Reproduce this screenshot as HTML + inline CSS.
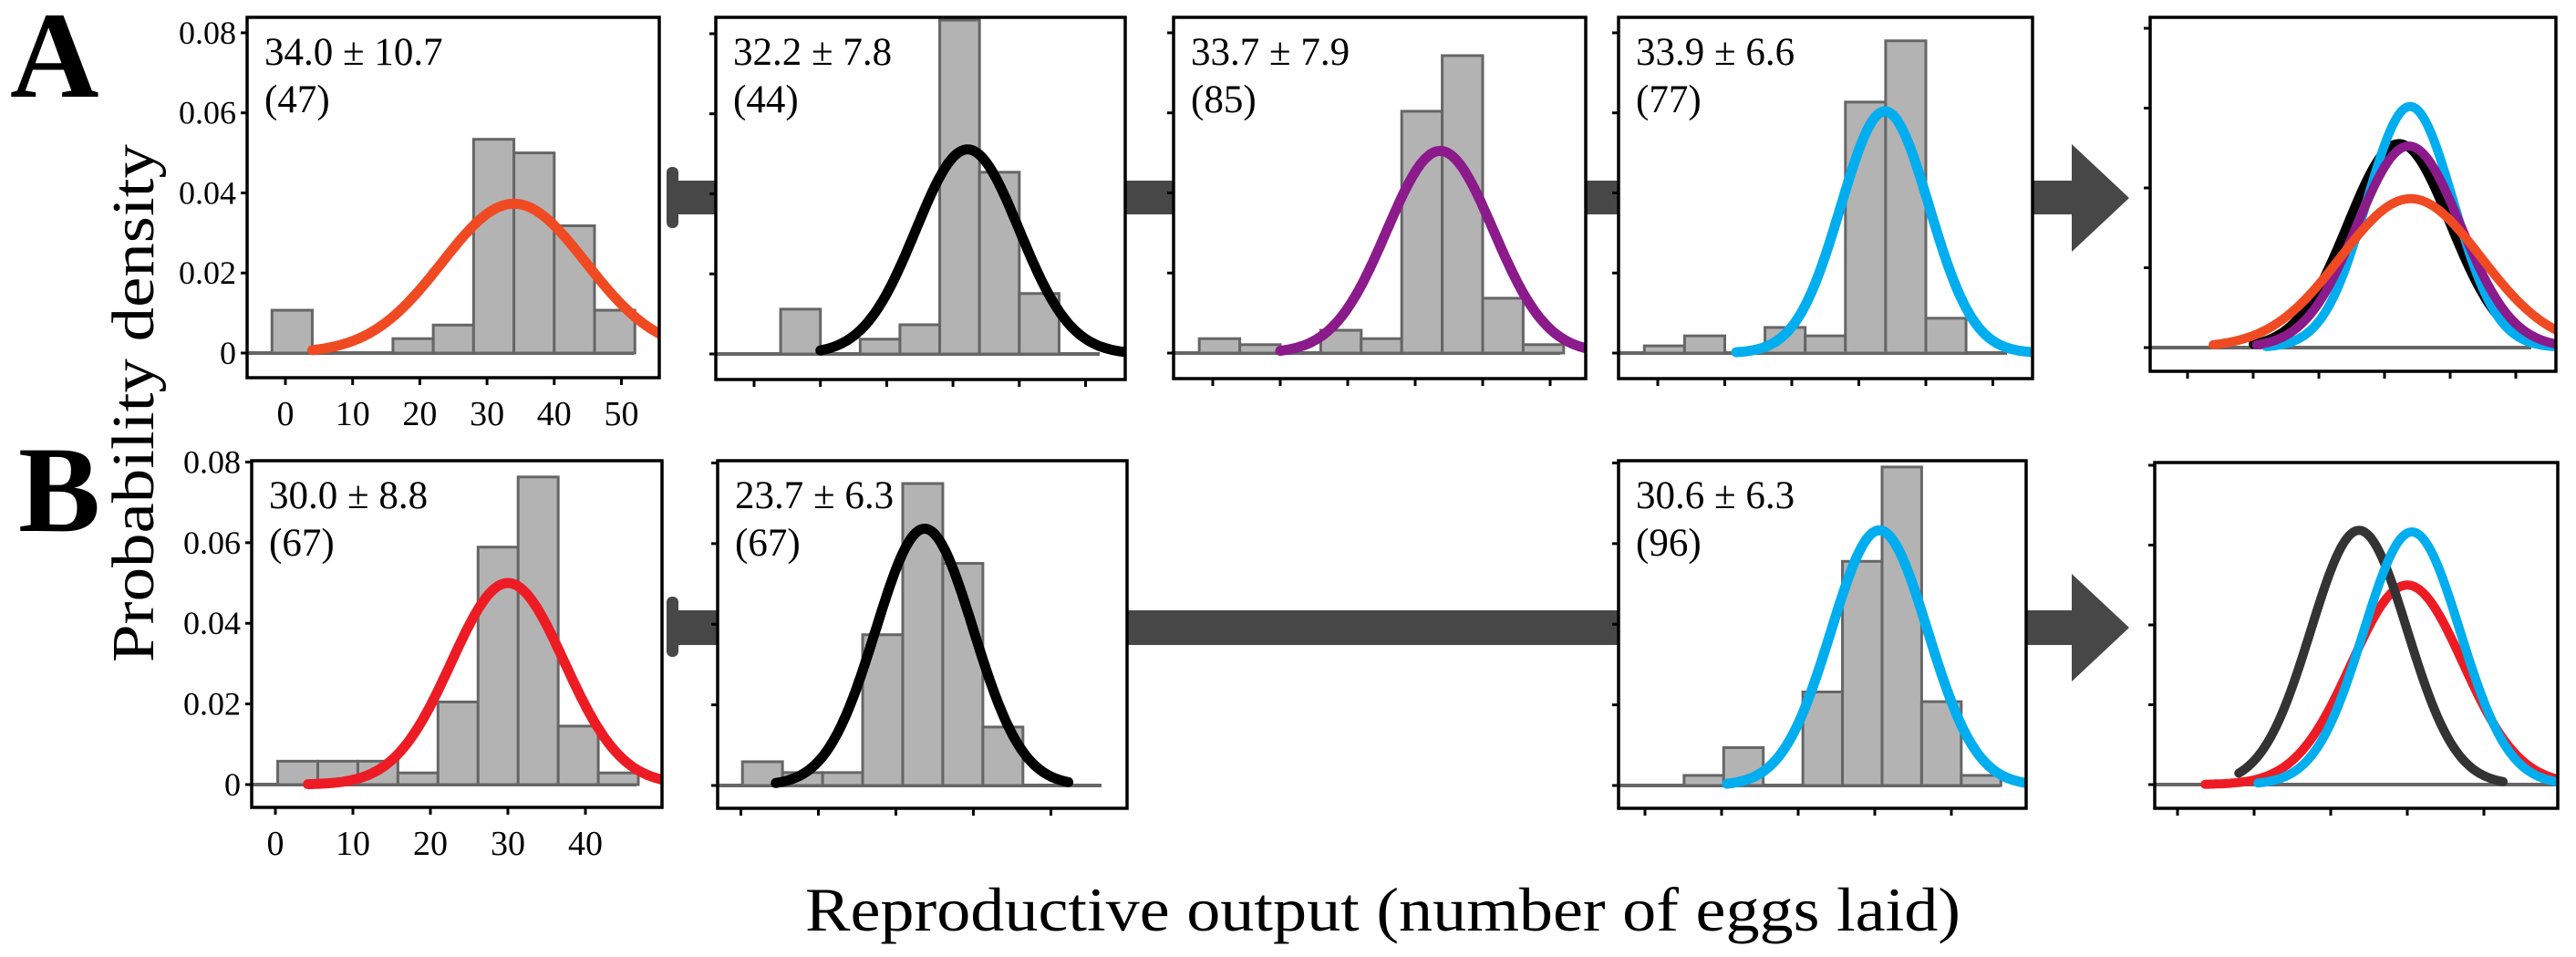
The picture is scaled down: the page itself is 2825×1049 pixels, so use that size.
<!DOCTYPE html>
<html><head><meta charset="utf-8"><style>
html,body{margin:0;padding:0;background:#fff}
svg{display:block}
text{font-family:"Liberation Serif",serif;fill:#000}
</style></head><body>
<svg id="fig" width="2825" height="1049" viewBox="0 0 2825 1049" xmlns="http://www.w3.org/2000/svg">
<g id="arrows" fill="#474747">
  <rect x="731" y="183" width="13" height="67" rx="6"/>
  <rect x="738" y="198" width="48" height="37"/>
  <rect x="1233" y="198" width="55" height="37"/>
  <rect x="1738" y="198" width="38" height="37"/>
  <rect x="2228" y="198" width="45" height="37"/>
  <polygon points="2272,158 2335,217 2272,276"/>
  <rect x="731" y="654" width="13" height="66" rx="6"/>
  <rect x="738" y="669" width="50" height="38"/>
  <rect x="1235" y="669" width="541" height="38"/>
  <rect x="2221" y="669" width="52" height="38"/>
  <polygon points="2272,629 2335,688 2272,747"/>
</g>
<text x="11" y="106" font-size="135" font-weight="bold">A</text>
<text x="20" y="582" font-size="135" font-weight="bold">B</text>
<text transform="translate(168,442) rotate(-90)" text-anchor="middle" font-size="66" textLength="568" lengthAdjust="spacingAndGlyphs">Probability density</text>
<text x="883" y="1020" font-size="68" textLength="1267" lengthAdjust="spacingAndGlyphs">Reproductive output (number of eggs laid)</text>
</svg>
<script>
// ---- data ----
const panelIds = ["a1","a2","a3","a4","b1","b2","b4"];
const binStart = [-2, 4, -2, -2, 0.3, 0.2, 5.1];
const binWidth = [6, 6, 6, 6, 5.17, 5.17, 5.17];
const binHeightsA1 = [0.0107,0,0,0.0036,0.007,0.0534,0.050,0.0318,0.0107];
const binHeightsA2 = [0.0112,0,0.0037,0.0073,0.0834,0.0454,0.0151];
const binHeightsA3 = [0.0036,0.0021,0,0.0057,0.0036,0.0604,0.0743,0.0137,0.0021];
const binHeightsA4 = [0.0018,0.0043,0,0.0064,0.0043,0.0627,0.078,0.0087];
const binHeightsB1 = [0.0058,0.0058,0.0058,0.0029,0.0205,0.0589,0.0763,0.0145,0.0029];
const binHeightsB2 = [0.0059,0.0032,0.0032,0.0374,0.0749,0.0551,0.0145];
const binHeightsB4 = [0.0025,0.0094,0,0.0232,0.0556,0.079,0.0208,0.0025];
const means = [34.0, 32.2, 33.7, 33.9, 30.0, 23.7, 30.6];
const sds = [10.7, 7.8, 7.9, 6.6, 8.8, 6.3, 6.3];
const ns = [47, 44, 85, 77, 67, 67, 96];
const curvePeaks = [0.0373, 0.0511, 0.0505, 0.0604, 0.050, 0.0637, 0.0633];
const curveShapeSd = [10.7, 7.8, 7.9, 6.6, 7.3, 6.3, 6.3];
const curveFrom = [4, 10, 10, 11.7, 4.2, 4.5, 10.7];
const curveTo = [60, 60, 60, 60, 60, 42.4, 60];
const curveColors = ["#f04a23","#000000","#8b1a8b","#00aeef","#ed1c24","#000000","#00aeef"];
const yTickValues = [0, 0.02, 0.04, 0.06, 0.08];
const yTickLabels = ["0","0.02","0.04","0.06","0.08"];
const xTickValuesA = [0,10,20,30,40,50];
const xTickValuesB = [0,10,20,30,40];
const summaryA = [1, 3, 2, 0];
const summaryAFrom = [10, 12, 10.5, 3.9];
const summaryB = [4, 5, 6];
const summaryBFrom = [3.6, 8, 10.5];
const summaryBTo = [60, 42.6, 60];
const summaryBColors = ["#ed1c24", "#333333", "#00aeef"];
const binHeights = [binHeightsA1,binHeightsA2,binHeightsA3,binHeightsA4,binHeightsB1,binHeightsB2,binHeightsB4];

// ---- layout ----
const layout = {
  a1:{l:271,t:19,r:723,b:414,x0:313,k:7.37,y0:387,yk:4388,lab:true},
  a2:{l:785,t:19,r:1234,b:416,x0:827,k:7.27,y0:388,yk:4388},
  a3:{l:1287,t:19,r:1739,b:415,x0:1330,k:7.4,y0:387,yk:4388},
  a4:{l:1775,t:19,r:2229,b:415,x0:1818,k:7.35,y0:387,yk:4388},
  a5:{l:2358,t:19,r:2803,b:407,x0:2399,k:7.2,y0:381,yk:4375},
  b1:{l:276,t:505,r:726,b:885,x0:302,k:8.5,y0:860,yk:4419,lab:true},
  b2:{l:787,t:505,r:1236,b:886,x0:812.5,k:8.5,y0:861,yk:4419},
  b4:{l:1775,t:505,r:2222,b:886,x0:1804,k:8.4,y0:861,yk:4419},
  b5:{l:2363,t:507,r:2805,b:886,x0:2388,k:8.4,y0:860,yk:4375}
};
const NS="http://www.w3.org/2000/svg";
const svg=document.getElementById('fig');
function mk(tag,attrs,parent){const e=document.createElementNS(NS,tag);for(const a in attrs)e.setAttribute(a,attrs[a]);(parent||svg).appendChild(e);return e;}
function gauss(x,m,s,p){return p*Math.exp(-(x-m)*(x-m)/(2*s*s));}

function drawFrame(id,P,xticks){
  const g=mk('g',{});
  
  
  const cp=mk('clipPath',{id:'clip-'+id},g);
  mk('rect',{x:P.l,y:P.t,width:P.r-P.l,height:P.b-P.t},cp);
  yTickValues.forEach((v,i)=>{
    const y=P.y0-v*P.yk;
    const t=mk('line',{x1:P.l-7,x2:P.l,y1:y,y2:y,stroke:'#000','stroke-width':3},g);
    
    
    if(P.lab){
      const tx=mk('text',{x:P.l-12,y:y+12,'text-anchor':'end','font-size':36},g);
      
      
      tx.textContent=yTickLabels[i];
    }
  });
  xticks.forEach(v=>{
    const x=P.x0+v*P.k;
    const t=mk('line',{x1:x,x2:x,y1:P.b,y2:P.b+8,stroke:'#000','stroke-width':3},g);
    
    
    if(P.lab){
      const tx=mk('text',{x:x,y:P.b+52,'text-anchor':'middle','font-size':38},g);
      
      
      tx.textContent=String(v);
    }
  });
  return g;
}
function drawBaseline(g,P,x2){
  const b=mk('line',{x1:P.l,x2:x2,y1:P.y0,y2:P.y0,stroke:'#666','stroke-width':4},g);
  
  
}
function drawBox(g,P){
  const r=mk('rect',{x:P.l,y:P.t,width:P.r-P.l,height:P.b-P.t,fill:'none',stroke:'#000','stroke-width':3.5},g);
  
  
}
function drawCurve(g,id,P,m,s,p,from,to,color,w){
  let d='';const end=Math.min(to,(P.r-P.x0)/P.k+1);
  for(let x=from;x<=end;x+=0.25){
    const px=P.x0+x*P.k,py=P.y0-gauss(x,m,s,p)*P.yk;
    d+=(d?'L':'M')+px.toFixed(1)+','+py.toFixed(1);
  }
  const c=mk('path',{d:d,fill:'none',stroke:color,'stroke-width':w,'stroke-linecap':'round','stroke-linejoin':'round','clip-path':'url(#clip-'+id+')'},g);
  
  
}

panelIds.forEach((id,i)=>{
  const P=layout[id];
  const g=drawFrame(id,P,id[0]==='a'?xTickValuesA:xTickValuesB);
  drawBaseline(g,P,P.r-28);
  binHeights[i].forEach((h,j)=>{
    if(h<=0)return;
    const x1=P.x0+(binStart[i]+j*binWidth[i])*P.k, x2=x1+binWidth[i]*P.k;
    const y=P.y0-h*P.yk;
    const r=mk('rect',{x:x1,y:y,width:x2-x1,height:P.y0-y,fill:'#b3b3b3',stroke:'#666','stroke-width':3},g);
    
    
  });
  drawCurve(g,id,P,means[i],curveShapeSd[i],curvePeaks[i],curveFrom[i],curveTo[i],curveColors[i],11);
  drawBox(g,P);
  const t1=mk('text',{x:P.l+19,y:P.t+52,'font-size':43},g);
  
  
  t1.textContent=means[i].toFixed(1)+' \u00b1 '+sds[i].toFixed(1);
  const t2=mk('text',{x:P.l+19,y:P.t+104,'font-size':43},g);
  
  
  t2.textContent='('+ns[i]+')';
});

(function(){
  const P=layout.a5;const g=drawFrame('a5',P,xTickValuesA);
  drawBaseline(g,P,2776);
  summaryA.forEach((idx,j)=>{
    drawCurve(g,'a5',P,means[idx],curveShapeSd[idx],curvePeaks[idx],summaryAFrom[j],60,curveColors[idx],10);
  });
  drawBox(g,P);
})();
(function(){
  const P=layout.b5;const g=drawFrame('b5',P,xTickValuesB);
  drawBaseline(g,P,P.r);
  summaryB.forEach((idx,j)=>{
    drawCurve(g,'b5',P,means[idx],curveShapeSd[idx],curvePeaks[idx],summaryBFrom[j],summaryBTo[j],summaryBColors[j],10);
  });
  drawBox(g,P);
})();
</script>
</body></html>
